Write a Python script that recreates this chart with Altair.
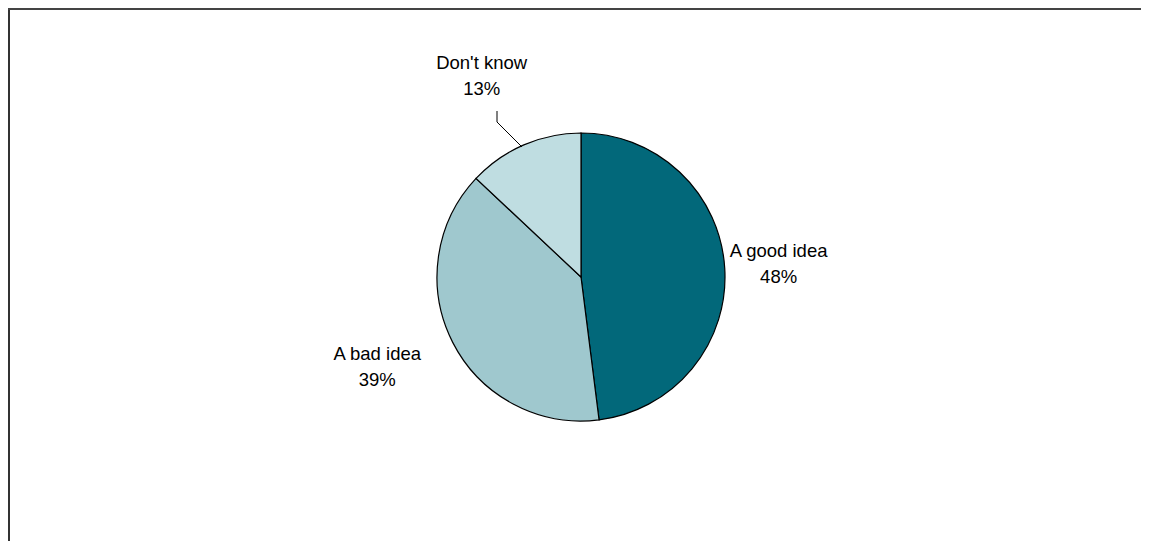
import altair as alt
import pandas as pd

categories = ["A good idea", "A bad idea", "Don't know"]
values = [48, 39, 13]
pct_labels = ["48%", "39%", "13%"]
colors = ["#02687A", "#9FC8CE", "#BFDDE1"]
label_radius = [198, 223, 225]

df = pd.DataFrame({
    "category": categories,
    "value": values,
    "pct": pct_labels,
    "order": [0, 1, 2],
    "lr": label_radius,
})

W, H = 1133, 533
CX, CY = 573, 269
R = 144

pie = alt.Chart(df).mark_arc(stroke="black", strokeWidth=1.2, outerRadius=R).encode(
    theta=alt.Theta("value:Q", stack=True),
    order=alt.Order("order:Q"),
    color=alt.Color("category:N", scale=alt.Scale(domain=categories, range=colors), legend=None),
    x=alt.value(CX),
    y=alt.value(CY),
)

text_base = alt.Chart(df).transform_joinaggregate(
    total="sum(value)"
).transform_window(
    cum="sum(value)", sort=[alt.SortField("order")]
).transform_calculate(
    mid="(datum.cum - datum.value / 2) / datum.total * 2 * PI",
    label="datum.category + '\\n' + datum.pct",
)

# small per-label nudges (dx, dy) like the original's label placement
nudges = {"A good idea": (0, -14), "A bad idea": (-5, -24), "Don't know": (-10, -8)}

text_layers = []
for cat in categories:
    ndx, ndy = nudges[cat]
    cat_js = cat.replace("'", "\\'")
    text_layers.append(
        text_base.transform_filter(f"datum.category == '{cat_js}'").mark_text(
            font="Liberation Sans", fontSize=18.5, lineBreak="\n", lineHeight=26,
            align="center", baseline="middle", color="black", dx=ndx, dy=ndy,
        ).encode(
            text="label:N",
            theta=alt.Theta("mid:Q", scale=None),
            radius=alt.Radius("lr:Q", scale=None),
            x=alt.value(CX),
            y=alt.value(CY),
        )
    )

# leader line for "Don't know"
lead1 = alt.Chart(df).transform_filter("datum.category == \"Don't know\"").mark_rule(
    color="black", strokeWidth=1
).encode(x=alt.value(489), x2=alt.value(489), y=alt.value(103), y2=alt.value(114))
lead2 = alt.Chart(df).transform_filter("datum.category == \"Don't know\"").mark_rule(
    color="black", strokeWidth=1
).encode(x=alt.value(489), x2=alt.value(514), y=alt.value(114), y2=alt.value(139))

# frame (left and top)
frame_left = alt.Chart(df).transform_filter("datum.order == 0").mark_rule(
    color="#333333", strokeWidth=2
).encode(x=alt.value(1), x2=alt.value(1), y=alt.value(0), y2=alt.value(H))
frame_top = alt.Chart(df).transform_filter("datum.order == 0").mark_rule(
    color="#444444", strokeWidth=2
).encode(x=alt.value(0), x2=alt.value(W), y=alt.value(1), y2=alt.value(1))

chart = alt.layer(pie, *text_layers, lead1, lead2, frame_left, frame_top).properties(
    width=W, height=H, padding=0, autosize=alt.AutoSizeParams(type="none"),
    background="white",
).configure_view(stroke=None)

chart.save("out.html", embed_options={"renderer": "svg", "actions": False})
